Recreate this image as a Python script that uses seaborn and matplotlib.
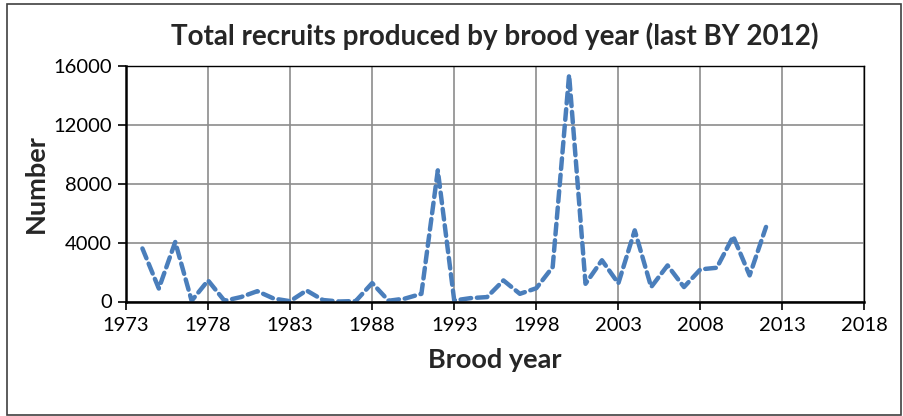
import numpy as np
import pandas as pd
import matplotlib
matplotlib.use('Agg')
import matplotlib.pyplot as plt
import seaborn as sns
from matplotlib.patches import Rectangle

# Datos
brood_year = list(range(1974, 2013))
recruits = [3600, 880, 4040, 50, 1430, 50, 300, 700, 200, 20,
            750, 100, 0, 30, 1250, 50, 200, 520, 8900, 70,
            230, 300, 1430, 520, 900, 2340, 15380, 1200, 2800, 1230,
            4830, 980, 2450, 980, 2180, 2290, 4420, 1770, 5060]
x_ticks = [1973, 1978, 1983, 1988, 1993, 1998, 2003, 2008, 2013, 2018]
y_ticks = [0, 4000, 8000, 12000, 16000]

df = pd.DataFrame({'Brood year': brood_year, 'Number': recruits})

sns.set_style('white')
plt.rcParams['font.family'] = ['Lato', 'DejaVu Sans']

fig = plt.figure(figsize=(9.04, 4.16), dpi=100)
ax = fig.add_axes([126 / 904, 1 - 301.5 / 416, (864.5 - 126) / 904, (301.5 - 65.7) / 416])

sns.lineplot(data=df, x='Brood year', y='Number', ax=ax, color='#4a7ebb',
             linewidth=3.2, linestyle=(0, (2.4, 1.3)), dash_capstyle='round')

ax.set_xlim(1973, 2018)
ax.set_ylim(0, 16000)
ax.set_xticks(x_ticks)
ax.set_yticks(y_ticks)
ax.grid(True, color='#8c8c8c', linewidth=1.2)
ax.set_axisbelow(True)

for side in ['top', 'right']:
    ax.spines[side].set_color('black')
    ax.spines[side].set_linewidth(1.0)
for side in ['left', 'bottom']:
    ax.spines[side].set_color('black')
    ax.spines[side].set_linewidth(1.8)

ax.tick_params(axis='both', which='both', direction='out', length=6, width=1.2,
               colors='black', labelsize=14.5, left=True, bottom=True)
ax.tick_params(axis='x', pad=5)
ax.tick_params(axis='y', pad=4)

ax.set_xlabel('Brood year', fontsize=19.5, fontweight='bold', labelpad=10)
ax.set_ylabel('Number', fontsize=19.5, fontweight='bold', labelpad=4)
ax.set_title('Total recruits produced by brood year (last BY 2012)',
             fontsize=20, fontweight='bold', pad=15)

# Marco de la figura
fig.patches.append(Rectangle((7 / 904, 1.5 / 416), 1 - 10 / 904, 1 - 5 / 416,
                             transform=fig.transFigure, fill=False,
                             edgecolor='#404040', linewidth=1.2))

fig.savefig('out.png', dpi=100)
